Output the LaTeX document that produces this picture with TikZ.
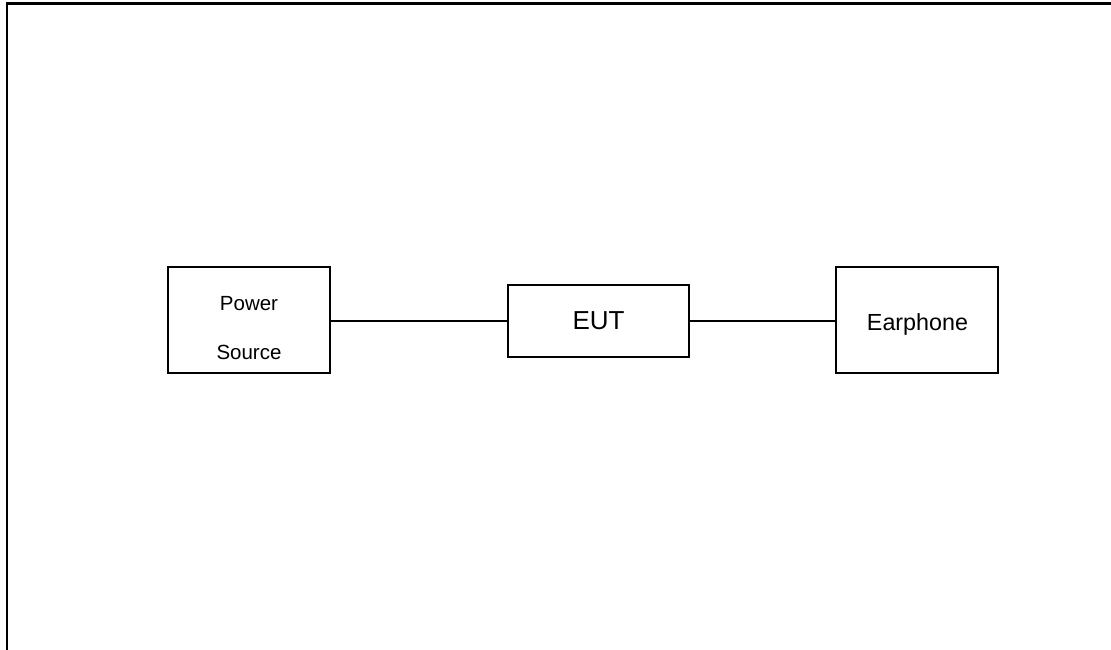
\documentclass[tikz,border=0pt]{standalone}
\usepackage{fontspec}
\setmainfont{Liberation Sans}
\usepackage{tikz}

\begin{document}
\begin{tikzpicture}[x=1pt, y=-1pt]
\tikzstyle{mybox} = [draw, rectangle, line width = 1.2pt, inner sep = 0 pt]
\tikzset{myline/.style={line width = 1.5pt}}
\useasboundingbox (0,0) rectangle (1111,650);
\draw [line width = 2.6pt] (7,650) -- (7,3.5) -- (1111,3.5);
\node [mybox, minimum width = 162pt, minimum height = 106pt] (power) at (249,320) {};
\node [font = \fontsize{20.5}{49}\selectfont, align = center] (powertext) at (249,328) {Power\\Source};
\node [mybox, minimum width = 181pt, minimum height = 72pt, font = \fontsize{26}{30}\selectfont] (eut) at (598.5,321) {EUT};
\node [mybox, minimum width = 162pt, minimum height = 106pt] (earphone) at (917,320) {};
\node [font = \fontsize{23.3}{28}\selectfont, text depth = 0pt] (earphonetext) at (917.5,322.5) {Earphone};
\draw [myline] (eut.west -| power.east) -- (eut.west);
\draw [myline] (eut.east) -- (eut.east -| earphone.west);
\end{tikzpicture}
\end{document}
